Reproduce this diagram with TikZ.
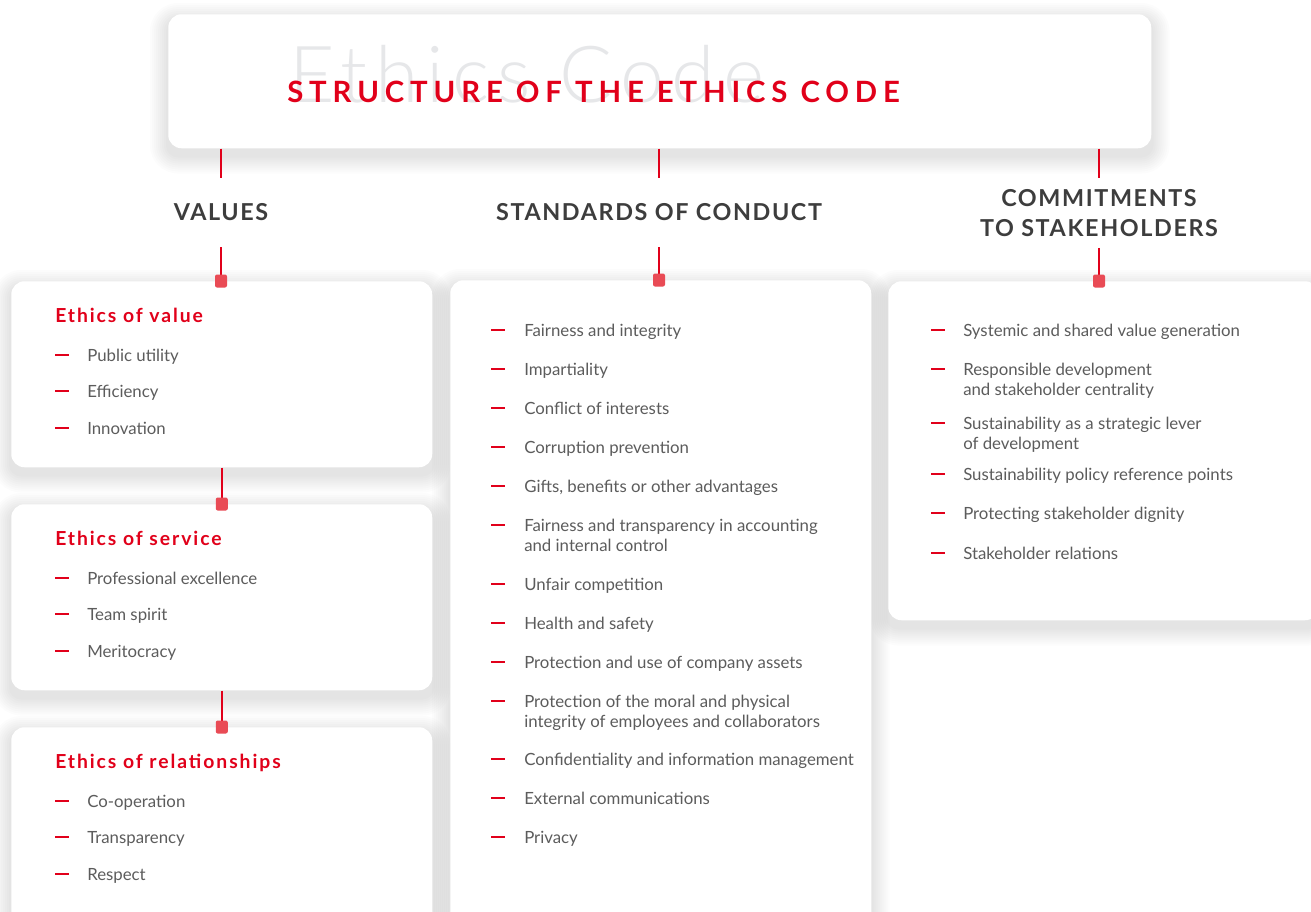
\documentclass[tikz,border=0pt]{standalone}
\usepackage{fontspec}
\setmainfont{Lato}
\newfontfamily\lightfont{Lato Light}
\usetikzlibrary{calc, positioning}
\definecolor{ethred}{HTML}{E1001A}
\definecolor{pinred}{HTML}{E94B55}
\definecolor{headgray}{HTML}{3D3D3D}
\definecolor{itemgray}{HTML}{5C5C5C}
\definecolor{ghostgray}{HTML}{E6E7E9}
\newcommand{\px}{0.75pt}
\pgfdeclarelayer{paper}
\pgfdeclarelayer{shade}
\pgfsetlayers{paper,shade,main}
\tikzset{
    card/.style={rectangle, fill=white, rounded corners=10pt, anchor=north west, inner sep=0pt},
    ghost/.style={anchor=base west, inner sep=0pt, text=ghostgray, font=\lightfont\addfontfeature{LetterSpace=10}\fontsize{59}{62}\selectfont},
    maintitle/.style={anchor=base west, inner sep=0pt, text=ethred, font=\bfseries\addfontfeature{LetterSpace=20}\fontsize{22}{24}\selectfont},
    colhead/.style={text=headgray, align=center, minimum height=69*\px, inner sep=0pt,
        font=\bfseries\addfontfeature{LetterSpace=7}\fontsize{17.5}{22.5}\selectfont},
    subhead/.style={anchor=mid west, inner sep=0pt, text=ethred, font=\bfseries\addfontfeature{LetterSpace=10}\fontsize{14.5}{17}\selectfont},
    item/.style={anchor=mid west, inner sep=0pt, text=itemgray, align=left, font=\fontsize{12.6}{15}\selectfont},
    bullet/.style={draw=ethred, line width=1.6pt},
    link/.style={draw=ethred, line width=1.5pt},
    pin/.style={fill=pinred, rounded corners=1.5pt, minimum width=12*\px, minimum height=13*\px, inner sep=0pt}
}

\begin{document}
\begin{tikzpicture}[x=\px, y=-\px]
    \begin{pgfonlayer}{paper}
        \fill[white] (0,0) rectangle (1311,911);
    \end{pgfonlayer}
    \useasboundingbox (0,0) rectangle (1311,911);

    % title
    \node[card, minimum width=983*\px, minimum height=134*\px] (titlebox) at (168,14) {};
    \node[ghost] (ghost) at (289,102) {Ethics Code};
    \node[maintitle] (title) at (287,102) {STRUCTURE OF THE ETHICS CODE};

    % column headings
    \node[colhead] (hvalues) at (221,212.5) {VALUES};
    \node[colhead] (hstandards) at (659,212.5) {STANDARDS OF CONDUCT};
    \node[colhead] (hcommit) at (1099,213) {COMMITMENTS\\TO STAKEHOLDERS};

    % cards
    \node[card, minimum width=421*\px, minimum height=186*\px] (vcard1) at (11,281) {};
    \node[card, minimum width=421*\px, minimum height=186*\px] (vcard2) at (11,504) {};
    \node[card, minimum width=421*\px, minimum height=220*\px] (vcard3) at (11,727) {};
    \node[card, minimum width=421*\px, minimum height=660*\px] (scard) at (450,280) {};
    \node[card, minimum width=430*\px, minimum height=339*\px] (ccard) at (888,281) {};

    % soft shadows
    \begin{pgfonlayer}{shade}
        \foreach \k in {titlebox, vcard1, vcard2, vcard3, scard, ccard}
            \foreach \i in {2,4,...,18} {
                \pgfmathsetmacro\rr{7.5+0.75*\i}
                \fill[black, opacity=0.012, rounded corners=\rr pt]
                    ([shift={(-\i,7-\i)}]\k.north west) rectangle ([shift={(\i,7+\i)}]\k.south east);
            }
    \end{pgfonlayer}

    % connectors
    \foreach \h in {hvalues, hstandards, hcommit}
        \draw[link] (\h.north |- titlebox.south) -- (\h.north);
    \draw[link] (hvalues.south) -- (hvalues.south |- vcard1.north) node[pin] (pv1) {};
    \draw[link] (vcard1.south) -- (vcard2.north) node[pin] (pv2) {};
    \draw[link] (vcard2.south) -- (vcard3.north) node[pin] (pv3) {};
    \draw[link] (hstandards.south) -- (hstandards.south |- scard.north) node[pin] (ps) {};
    \draw[link] (hcommit.south) -- (hcommit.south |- ccard.north) node[pin] (pc) {};

    % values
    \foreach \c/\y/\h/\a/\b/\d in {1/316/Ethics of value/Public utility/Efficiency/Innovation,
            2/539/Ethics of service/Professional excellence/Team spirit/Meritocracy,
            3/762/Ethics of relationships/Co-operation/Transparency/Respect} {
        \node[subhead] (vhead\c) at (55,\y+3) {\h};
        \foreach \n/\dy/\t in {1/39/\a, 2/75/\b, 3/112/\d} {
            \draw[bullet] (55,\y+\dy) -- ++(14,0);
            \node[item] (v\c i\n) at (87,\y+\dy+3) {\t};
        }
    }

    % standards of conduct (text y = last line)
    \foreach \n/\y/\ty/\t in {1/330/330/Fairness and integrity, 2/369/369/Impartiality,
            3/408/408/Conflict of interests, 4/447/447/Corruption prevention,
            5/486/486/{Gifts, benefits or other advantages},
            6/525/545/Fairness and transparency in accounting\\and internal control,
            7/584/584/Unfair competition, 8/623/623/Health and safety,
            9/662/662/Protection and use of company assets,
            10/701/721/Protection of the moral and physical\\integrity of employees and collaborators,
            11/759/759/Confidentiality and information management,
            12/798/798/External communications, 13/837/837/Privacy} {
        \draw[bullet] (491,\y) -- ++(14,0);
        \node[item] (s\n) at (524,\ty+3) {\t};
    }

    % commitments to stakeholders (text y = last line)
    \foreach \n/\y/\ty/\t in {1/330/330/Systemic and shared value generation,
            2/369/389/Responsible development\\and stakeholder centrality,
            3/423/443/Sustainability as a strategic lever\\of development,
            4/474/474/Sustainability policy reference points,
            5/513/513/Protecting stakeholder dignity,
            6/553/553/Stakeholder relations} {
        \draw[bullet] (931,\y) -- ++(14,0);
        \node[item] (c\n) at (963,\ty+3) {\t};
    }
\end{tikzpicture}
\end{document}
